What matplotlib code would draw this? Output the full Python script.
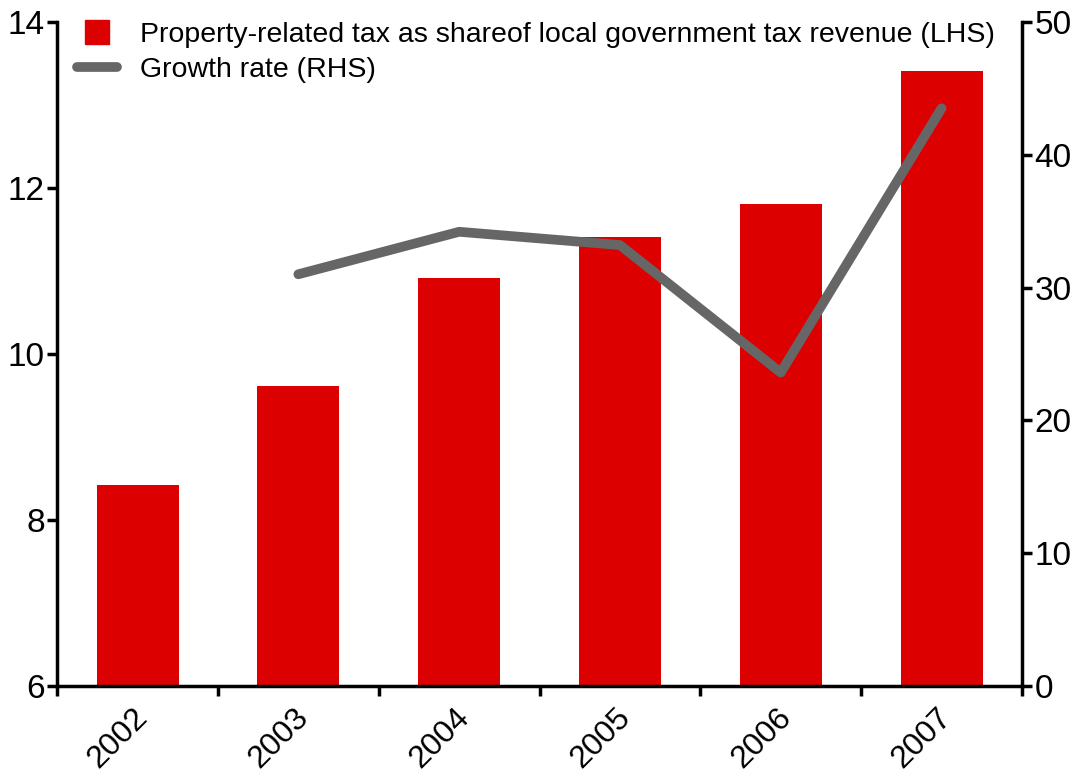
import numpy as np
import matplotlib.pyplot as plt
from matplotlib.lines import Line2D

plt.rcParams['font.family'] = ['Liberation Sans', 'DejaVu Sans']

years = ['2002', '2003', '2004', '2005', '2006', '2007']
tax_share = [8.42, 9.61, 10.92, 11.41, 11.81, 13.41]      # % of local govt tax revenue
growth_years = ['2003', '2004', '2005', '2006', '2007']
growth_rate = [31.0, 34.2, 33.2, 23.6, 43.5]               # %

x = np.arange(len(years))
gx = [years.index(y) for y in growth_years]

fig = plt.figure(figsize=(10.78, 7.73), dpi=100)
ax = fig.add_axes([0.053, 0.1126, 0.895, 0.859])
ax2 = ax.twinx()

ax.bar(x, np.array(tax_share) - 6, bottom=6, width=0.51, color='#dd0000', zorder=2)
ax2.plot(gx, growth_rate, color='#666666', lw=7, solid_capstyle='round',
         solid_joinstyle='round', zorder=3)

ax.set_xlim(-0.5, 5.5)
ax.set_ylim(6, 14)
ax.set_yticks([6, 8, 10, 12, 14])
ax2.set_ylim(0, 50)
ax2.set_yticks(range(0, 51, 10))

# tick marks between bars, labels under bar centres
ax.set_xticks(np.arange(-0.5, 6, 1))
ax.set_xticklabels([])
ax.set_xticks(x - 0.03, minor=True)
ax.set_xticklabels(years, minor=True, rotation=45, ha='right', va='top',
                   rotation_mode='anchor')
ax.tick_params(axis='x', which='minor', length=0, pad=12, labelsize=23)
ax.tick_params(axis='x', which='major', length=7, width=2.5, direction='out')
ax.tick_params(axis='y', length=7, width=2.5, labelsize=24, pad=2)
ax2.tick_params(axis='y', length=7, width=2.5, labelsize=24, pad=2)

for a in (ax, ax2):
    a.spines['top'].set_visible(False)
    for s in ('left', 'right', 'bottom'):
        a.spines[s].set_linewidth(2.5)
ax.spines['right'].set_visible(False)
ax2.spines['left'].set_visible(False)
ax2.spines['bottom'].set_visible(False)

handles = [
    Line2D([], [], marker='s', ls='none', markersize=17, color='#dd0000'),
    Line2D([], [], color='#666666', lw=7, solid_capstyle='round'),
]
labels = ['Property-related tax as shareof local government tax revenue (LHS)',
          'Growth rate (RHS)']
ax2.legend(handles, labels, loc='upper left', bbox_to_anchor=(0.0, 1.03),
           frameon=False, fontsize=20.5, handlelength=1.4, handletextpad=0.8,
           labelspacing=0.32, borderaxespad=0.3)

fig.savefig('out.png', dpi=100)
